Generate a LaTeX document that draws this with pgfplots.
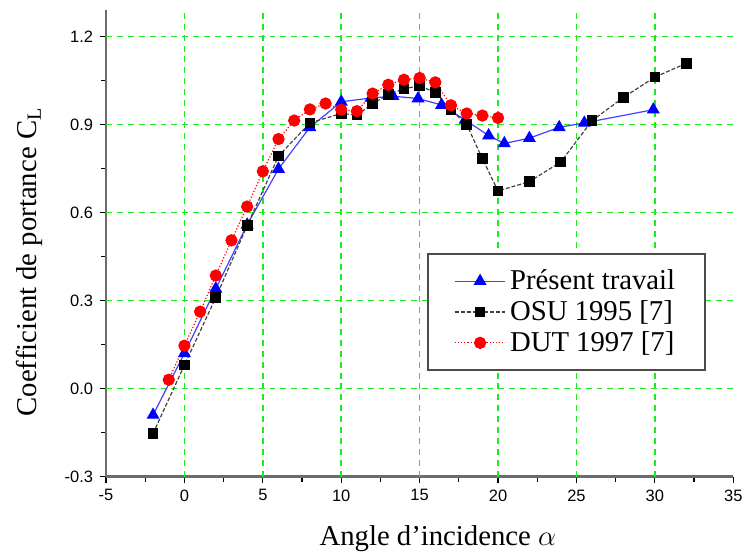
\documentclass[border=0pt]{standalone}
\usepackage{fontspec}
\setmainfont{Liberation Serif}
\newfontfamily\tickfont{Liberation Sans}
\usepackage{pgfplots}
\pgfplotsset{compat=1.18}
\definecolor{gridgreen}{RGB}{30,235,30}
\begin{document}
\begin{tikzpicture}
\begin{axis}[
 name=ax,
 scale only axis, width=316.5pt, height=235.5pt,
 xmin=-5, xmax=35, ymin=-0.3, ymax=1.29,
 axis x line=bottom, axis y line=left,
 axis line style={-, draw=gray!85!black, line width=1.3pt},
 xtick={-5,0,...,35}, ytick={-0.3,0,0.3,0.6,0.9,1.2},
 minor x tick num=1, minor y tick num=1,
 tick align=outside, major tick length=3pt, minor tick length=2.5pt,
 tick style={black, line width=0.6pt},
 extra x ticks={0,5,...,30}, extra y ticks={0,0.3,0.6,0.9,1.2},
 extra x tick labels={}, extra y tick labels={},
 extra tick style={grid=major, major tick length=0pt,
   major grid style={gridgreen, line width=0.8pt, dash pattern=on 3pt off 2.5pt}},
 /pgf/number format/assume math mode=true,
 tick label style={font=\tickfont\fontsize{8.3}{10}\selectfont},
 yticklabel style={/pgf/number format/.cd, fixed, fixed zerofill, precision=1},
 xlabel={Angle d’incidence $\alpha$},
 ylabel={Coefficient de portance C\textsubscript{L}},
 label style={font=\fontsize{14.5}{17}\selectfont},
 xlabel style={at={(axis description cs:0.529,-0.132)}, anchor=center},
 ylabel style={at={(axis description cs:-0.122,0.46)}, anchor=center},
 legend style={at={(axis cs:15.5,0.462)}, anchor=north west,
   draw=gray!60!black, line width=0.9pt, font=\fontsize{14.5}{17}\selectfont,
   inner xsep=13pt, inner ysep=6pt, row sep=0pt, cells={anchor=west}},
 legend image code/.code={\draw[mark repeat=2,mark phase=2] plot coordinates {(0cm,0cm) (0.45cm,0cm) (0.9cm,0cm)};},
]
\addplot[color=blue!75, line width=0.6pt, mark=triangle*, mark size=3.2pt,
  mark options={solid, fill=blue, draw=blue}] coordinates {
 (-2,-0.09) (0,0.12) (2,0.34) (4,0.558) (6,0.748) (8,0.89) (10,0.977)
 (11.9,0.99) (13.3,0.996) (14.9,0.988) (16.4,0.966) (17.9,0.915)
 (19.4,0.862) (20.4,0.835) (22,0.853) (23.9,0.89) (25.5,0.905) (29.9,0.95)
};
\addlegendentry{Présent travail}
\addplot[color=black!75, line width=0.6pt, dash pattern=on 2pt off 1pt, mark=square*, mark size=2.4pt,
  mark options={solid, fill=black, draw=black}] coordinates {
 (-2,-0.153) (0,0.08) (2,0.31) (4,0.555) (6,0.792) (8,0.905) (10,0.937)
 (11,0.932) (12,0.97) (13,1.002) (14,1.021) (15,1.032) (16,1.008) (17,0.949)
 (18,0.90) (19,0.783) (20,0.673) (22,0.705) (24,0.772) (26,0.913)
 (28,0.992) (30,1.061) (32,1.108)
};
\addlegendentry{OSU 1995 [7]}
\addplot[color=red, line width=0.6pt, densely dotted, mark=*, mark size=2.8pt,
  mark options={solid, fill=red, draw=red}] coordinates {
 (-1,0.03) (0,0.146) (1,0.262) (2,0.385) (3,0.505) (4,0.62) (5,0.74)
 (6,0.85) (7,0.913) (8,0.951) (9,0.971) (10,0.95) (11,0.945) (12,1.005)
 (13,1.035) (14,1.052) (15,1.058) (16,1.043) (17,0.965) (18,0.937)
 (19,0.93) (20,0.922)
};
\addlegendentry{DUT 1997 [7]}
\end{axis}
\path ([xshift=-53.5pt,yshift=-40.5pt]ax.south west) rectangle ([xshift=4.5pt,yshift=5pt]ax.north east);
\end{tikzpicture}
\end{document}
